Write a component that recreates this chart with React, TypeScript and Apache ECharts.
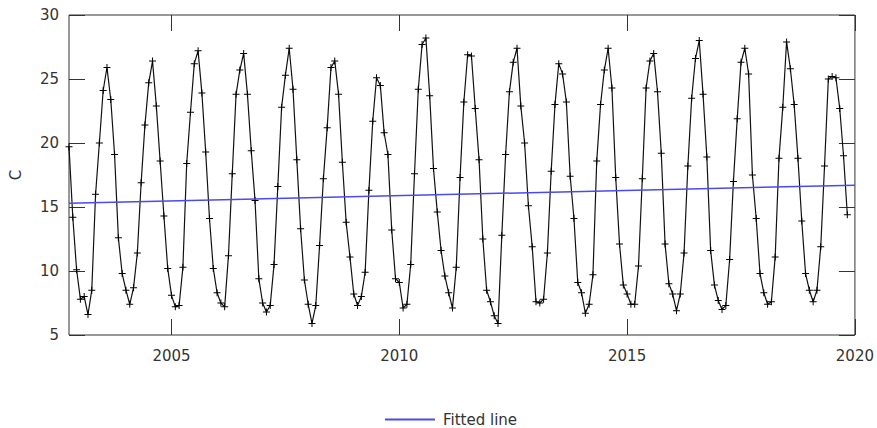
import React, { useEffect, useRef } from "react";
import * as echarts from "echarts";

// Monthly temperature (C), starting October 2002 (decimal year 2002.75)
const startYear = 2002.75;
const temperatures = [
  // 2002 Oct-Dec
  19.7, 14.2, 10.1,
  // 2003
  7.8, 8.0, 6.6, 8.5, 16.0, 20.0, 24.1, 25.9, 23.4, 19.1, 12.6, 9.8,
  // 2004
  8.5, 7.4, 8.7, 11.4, 16.9, 21.4, 24.7, 26.4, 22.9, 18.6, 14.3, 10.2,
  // 2005
  8.1, 7.2, 7.3, 10.3, 18.4, 22.4, 26.2, 27.2, 23.9, 19.3, 14.1, 10.2,
  // 2006
  8.3, 7.5, 7.2, 11.2, 17.6, 23.8, 25.7, 27.0, 23.8, 19.4, 15.5, 9.4,
  // 2007
  7.5, 6.8, 7.3, 10.5, 16.6, 22.8, 25.3, 27.4, 24.2, 18.7, 13.3, 9.3,
  // 2008
  7.4, 5.9, 7.3, 12.0, 17.2, 21.2, 25.9, 26.4, 23.8, 18.5, 13.8, 11.1,
  // 2009
  8.2, 7.3, 8.0, 9.9, 16.3, 21.7, 25.1, 24.5, 20.8, 19.1, 13.2, 9.4,
  // 2010
  9.1, 7.1, 7.4, 10.5, 17.6, 24.2, 27.7, 28.2, 23.7, 18.0, 14.6, 11.6,
  // 2011
  9.6, 8.3, 7.1, 10.3, 17.3, 23.2, 26.9, 26.8, 22.7, 18.7, 12.5, 8.5,
  // 2012
  7.6, 6.5, 5.9, 12.8, 19.1, 24.0, 26.3, 27.4, 22.9, 20.0, 15.1, 11.9,
  // 2013
  7.6, 7.5, 7.8, 11.4, 17.8, 23.0, 26.2, 25.4, 23.2, 17.4, 14.1, 9.1,
  // 2014
  8.3, 6.7, 7.4, 9.7, 18.6, 23.0, 25.7, 27.4, 24.3, 17.3, 12.1, 8.9,
  // 2015
  8.2, 7.4, 7.4, 10.4, 17.2, 24.3, 26.4, 27.0, 24.0, 19.2, 12.1, 9.0,
  // 2016
  8.2, 6.9, 8.2, 11.4, 18.2, 23.5, 26.6, 28.0, 23.8, 18.9, 11.6, 8.9,
  // 2017
  7.7, 7.0, 7.3, 10.9, 17.0, 21.9, 26.3, 27.4, 25.4, 17.5, 14.1, 9.8,
  // 2018
  8.3, 7.4, 7.6, 11.1, 18.8, 22.8, 27.9, 25.8, 23.0, 18.8, 13.9, 9.8,
  // 2019
  8.5, 7.6, 8.5, 11.9, 18.2, 25.0, 25.2, 25.1, 22.7, 19.0, 14.4,
];

const fittedX = [2002.75, 2020];
const fittedY = [15.3, 16.7];

const xMin = 2002.75;
const xMax = 2020;
const xTicks = [2005, 2010, 2015, 2020];
const yMin = 5;
const yMax = 30;
const yStep = 5;

const yAxisName = "C";
const fittedLabel = "Fitted line";

const FONT = "DejaVu Sans";
const TEXT = "#333";

export default function App() {
  const ref = useRef<HTMLDivElement>(null);

  useEffect(() => {
    if (!ref.current) return;
    const chart = echarts.init(ref.current, null, { renderer: "svg" });
    const dataPts = temperatures.map((v, i) => [startYear + i / 12, v]);
    const fitPts = fittedX.map((x, i) => [x, fittedY[i]]);

    chart.setOption({
      animation: false,
      backgroundColor: "#ffffff",
      grid: {
        left: 67,
        right: 22,
        top: 15,
        bottom: 93,
        show: true,
        borderColor: "#333",
        borderWidth: 1,
        backgroundColor: "transparent",
      },
      legend: {
        data: [fittedLabel],
        left: 380,
        top: 407,
        icon: "rect",
        itemWidth: 50,
        itemHeight: 2,
        textStyle: {
          fontFamily: FONT,
          fontSize: 15,
          color: TEXT,
          padding: [0, 0, 0, 3],
        },
      },
      xAxis: [
        {
          type: "value",
          min: xMin,
          max: xMax,
          axisLine: { show: false },
          splitLine: { show: false },
          axisTick: {
            show: true,
            inside: true,
            length: 16,
            customValues: xTicks,
            lineStyle: { color: "#333", width: 1 },
          },
          axisLabel: {
            customValues: xTicks,
            formatter: (v: number) => String(Math.round(v)),
            margin: 13,
            fontFamily: FONT,
            fontSize: 15,
            color: TEXT,
          },
        },
        {
          type: "value",
          position: "top",
          min: xMin,
          max: xMax,
          axisLine: { show: false },
          splitLine: { show: false },
          axisLabel: { show: false },
          axisTick: {
            show: true,
            inside: true,
            length: 16,
            customValues: xTicks,
            lineStyle: { color: "#333", width: 1 },
          },
        },
      ],
      yAxis: [
        {
          type: "value",
          min: yMin,
          max: yMax,
          interval: yStep,
          name: yAxisName,
          nameLocation: "middle",
          nameGap: 46,
          nameTextStyle: { fontFamily: FONT, fontSize: 15, color: TEXT },
          axisLine: { show: false },
          splitLine: { show: false },
          axisTick: {
            show: true,
            inside: true,
            length: 16,
            lineStyle: { color: "#333", width: 1 },
          },
          axisLabel: {
            margin: 10,
            fontFamily: FONT,
            fontSize: 15,
            color: TEXT,
          },
        },
        {
          type: "value",
          position: "right",
          min: yMin,
          max: yMax,
          interval: yStep,
          axisLine: { show: false },
          splitLine: { show: false },
          axisLabel: { show: false },
          axisTick: {
            show: true,
            inside: true,
            length: 16,
            lineStyle: { color: "#333", width: 1 },
          },
        },
      ],
      series: [
        {
          name: yAxisName,
          type: "line",
          xAxisIndex: 0,
          yAxisIndex: 0,
          data: dataPts,
          symbol: "path://M3,0H4V3H7V4H4V7H3V4H0V3H3Z",
          symbolSize: 7,
          showAllSymbol: true,
          itemStyle: { color: "#000" },
          lineStyle: { color: "#111", width: 1.2 },
          z: 2,
        },
        {
          name: fittedLabel,
          type: "line",
          xAxisIndex: 0,
          yAxisIndex: 0,
          data: fitPts,
          symbol: "none",
          itemStyle: { color: "#4a4af0" },
          lineStyle: { color: "#4a4af0", width: 1.5 },
          z: 3,
        },
      ],
    });

    return () => {
      chart.dispose();
    };
  }, []);

  return (
    <div
      ref={ref}
      style={{ position: "fixed", left: 0, top: 0, width: 877, height: 428 }}
    />
  );
}
